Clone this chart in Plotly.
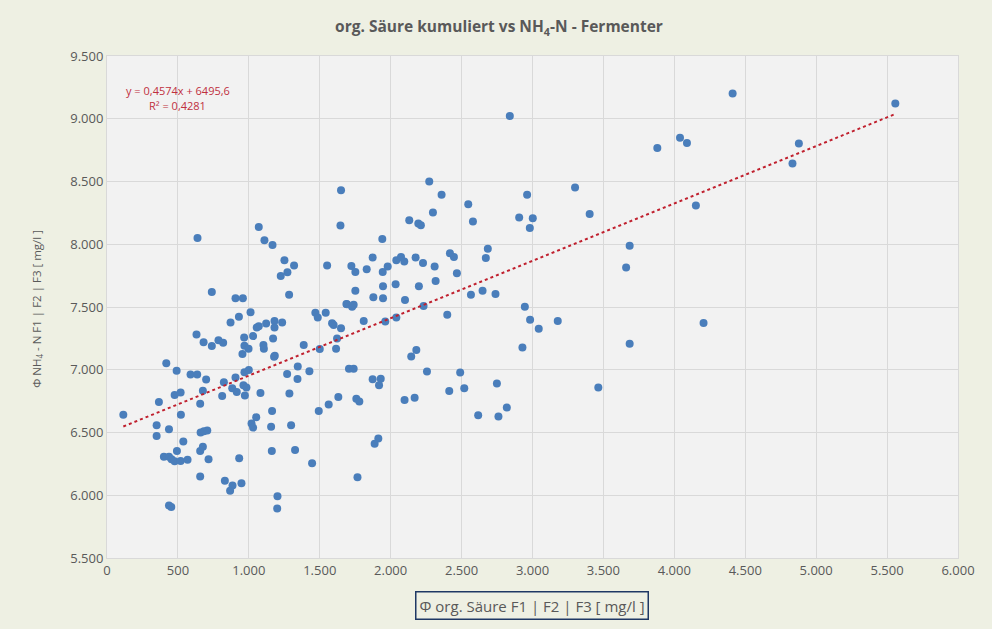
import plotly.graph_objects as go

# Φ org. Säure F1|F2|F3 [mg/l]
x_acid = [
    115, 418, 491, 366, 350, 350, 437, 477, 519, 521, 538, 401, 437, 455, 477, 519, 568, 493, 437, 453,
    589, 636, 699, 631, 681, 739, 786, 819, 676, 657, 812, 824, 660, 683, 707, 657, 676, 716, 657, 831,
    885, 868, 948, 932, 906, 962, 983, 972, 883, 915, 969, 1000, 1082, 871, 930, 1012, 967, 1030, 969, 998,
    955, 1056, 1070, 1122, 1181, 1181, 1235, 1171, 1103, 1106, 1183, 1178, 1270, 1345, 1343, 1427, 1286, 1164, 1052, 1019,
    1030, 1157, 1298, 1162, 1326, 1446, 1202, 1200, 1387, 1469, 1486, 1542, 1587, 1598, 1650, 1622, 1615, 1500, 1706, 1563,
    1631, 1493, 1692, 638, 1070, 1110, 1167, 1251, 1319, 1272, 1225, 1284, 739, 906, 958,
    1650, 1646, 2272, 2359, 2298, 2131, 2195, 2213, 2547, 2580, 2906, 2962, 3002, 2981, 3300, 3403, 1941, 1552, 1723, 1751,
    1831, 1873, 1944, 1979, 2040, 2073, 2096, 2176, 2228, 2310, 2418, 2446, 2467, 2685, 2671, 2317, 2035, 2199, 1946, 1751,
    1878, 1946, 2101, 1688, 1728, 1739, 1810, 1962, 2040, 2232, 2399, 2566, 2648, 2739, 2946, 2983, 3044, 3178, 2929, 1739,
    2145, 2181, 2256, 2490, 1873, 1930, 1918, 2749, 2413, 2519, 2098, 2169, 1758, 1779, 2617, 2760, 2819, 3464,
    1913, 1887, 1766, 2840,
    4411, 5558, 3880, 4040, 4089, 4878, 4833, 4152, 3685, 3660, 4206, 3685,
]

# Φ NH4-N F1|F2|F3 [mg/l]
y_nh4 = [
    6642, 7051, 6993, 6743, 6558, 6473, 6526, 6798, 6819, 6642, 6429, 6307, 6307, 6286, 6270, 6273, 6283, 6352, 5919, 5906,
    6962, 6962, 6922, 7281, 7220, 7189, 7236, 7215, 6832, 6729, 6790, 6901, 6500, 6510, 6516, 6352, 6386, 6286, 6149, 6115,
    6078, 6035, 6096, 6294, 6938, 6877, 6859, 6795, 6853, 6822, 6980, 6999, 6814, 7376, 7423, 7458, 7257, 7268, 7191, 7167,
    7125, 7336, 7347, 7368, 7389, 7336, 7376, 7249, 7197, 7167, 7112, 7104, 6967, 7025, 6927, 6988, 6811, 6671, 6621, 6571,
    6539, 6545, 6558, 6352, 6360, 6254, 5993, 5895, 7197, 7455, 7416, 7455, 7371, 7357, 7331, 7249, 7167, 7165, 7007, 6724,
    6782, 6671, 7521, 8050, 8138, 8032, 7995, 7872, 7830, 7776, 7747, 7598, 7620, 7569, 7569,
    8431, 8149, 8500, 8394, 8253, 8191, 8165, 8152, 8319, 8181, 8213, 8394, 8207, 8130, 8452, 8242, 8042, 7830, 7827, 7779,
    7800, 7894, 7779, 7822, 7872, 7899, 7862, 7894, 7851, 7822, 7928, 7899, 7768, 7965, 7891, 7707, 7681, 7665, 7665, 7630,
    7577, 7569, 7556, 7524, 7502, 7518, 7388, 7385, 7417, 7508, 7439, 7598, 7630, 7604, 7502, 7399, 7327, 7388, 7178, 7008,
    7106, 7157, 6986, 6978, 6925, 6928, 6877, 6891, 6830, 6853, 6758, 6776, 6768, 6747, 6638, 6627, 6699, 6859,
    6452, 6410, 6144, 9022,
    9202, 9122, 8766, 8848, 8806, 8803, 8644, 8308, 7989, 7814, 7372, 7207,
]

trend_slope = 0.4574
trend_intercept = 6495.6
trend_x = [min(x_acid), max(x_acid)]
trend_y = [trend_slope * v + trend_intercept for v in trend_x]

title_text = "org. Säure kumuliert vs NH<sub>4</sub>-N - Fermenter"
x_title = "Φ org. Säure F1 | F2 | F3 [ mg/l ]"
y_title = "Φ NH<sub>4</sub> - N F1 | F2 | F3 [ mg/l ]"
eq_line1 = "y = 0,4574x + 6495,6"
eq_line2 = "R² = 0,4281"

font_family = "Open Sans"
grey = "#595959"
eq_color = "#c0303e"

fig = go.Figure()
fig.add_trace(go.Scatter(
    x=x_acid, y=y_nh4, mode="markers",
    marker=dict(color="#4a7ebb", size=8, line=dict(width=0)),
    showlegend=False, hoverinfo="x+y",
))
fig.add_trace(go.Scatter(
    x=trend_x, y=trend_y, mode="lines",
    line=dict(color="#c0202e", width=2, dash="dot"),
    showlegend=False, hoverinfo="skip",
))

axis_common = dict(
    showgrid=True, gridcolor="#d9d9d9", gridwidth=1,
    zeroline=False, showline=True, linecolor="#d9d9d9", mirror=True,
    tickfont=dict(family=font_family, size=13, color=grey),
    tickformat=",d", dtick=500, ticks="",
)

fig.update_layout(
    width=992, height=629,
    margin=dict(l=107, r=34, t=56, b=71),
    paper_bgcolor="#eef0e3",
    plot_bgcolor="#f2f2f2",
    separators=",.",
    title=dict(text=title_text, x=0.503, xanchor="center", y=0.957, yanchor="middle",
               font=dict(family=font_family, size=15.5, color=grey, weight="bold")),
    xaxis=dict(range=[0, 6000], **axis_common),
    yaxis=dict(range=[5500, 9500], **axis_common),
    annotations=[
        dict(text=x_title, xref="paper", yref="paper", x=0.4994, y=-0.0956,
             xanchor="center", yanchor="middle", showarrow=False,
             font=dict(family=font_family, size=15, color=grey),
             bordercolor="#1f3864", borderwidth=1.5, borderpad=3, bgcolor="#eef0e3"),
        dict(text=y_title, xref="paper", yref="paper", x=-0.083, y=0.497,
             xanchor="center", yanchor="middle", showarrow=False, textangle=-90,
             font=dict(family=font_family, size=11.5, color=grey)),
        dict(text=eq_line1, xref="x", yref="y", x=500, y=9229,
             xanchor="center", yanchor="middle", showarrow=False,
             font=dict(family=font_family, size=11, color=eq_color)),
        dict(text=eq_line2, xref="x", yref="y", x=500, y=9102,
             xanchor="center", yanchor="middle", showarrow=False,
             font=dict(family=font_family, size=11, color=eq_color)),
    ],
)

fig.write_html("out.html", config={"displayModeBar": False},
               post_script="document.body.style.margin='0';")
